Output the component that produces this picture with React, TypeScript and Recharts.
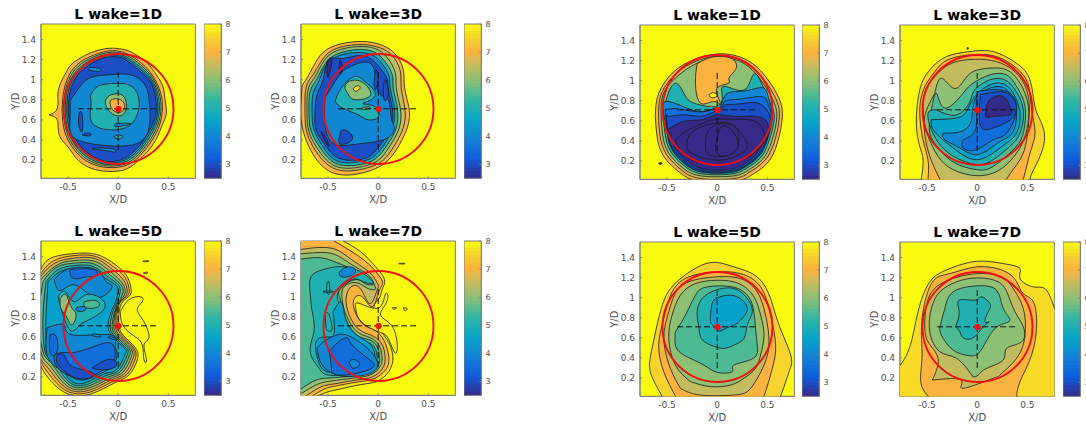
import React from 'react';
import { ComposedChart, Scatter, XAxis, YAxis, ReferenceDot, ReferenceArea, Label } from 'recharts';

type Contour = [number, number[]];

const xTicks = [-0.5, 0, 0.5];
const yTicks = [0.2, 0.4, 0.6, 0.8, 1, 1.2, 1.4];
const barTicks = [3, 4, 5, 6, 7, 8];
const barSteps = [2.5,2.625,2.75,2.875,3,3.125,3.25,3.375,3.5,3.625,3.75,3.875,4,4.125,4.25,4.375,4.5,4.625,4.75,4.875,5,5.125,5.25,5.375,5.5,5.625,5.75,5.875,6,6.125,6.25,6.375,6.5,6.625,6.75,6.875,7,7.125,7.25,7.375,7.5,7.625,7.75,7.875];
const barExtent = [{ x: 0, y: 2.5 }, { x: 1, y: 8 }];
const dashH = [[-0.4, 0.71], [0.4, 0.71]];
const dashV = [[0, 0.3], [0, 1.1]];

const near1D: Contour[] = [
  [7, [-.69,.65,-.62,.69,-.6,.78,-.6,.88,-.56,1,-.52,1.07,-.47,1.15,-.37,1.22,-.27,1.27,-.12,1.31,0,1.31,.12,1.28,.25,1.2,.33,1.12,.4,1.02,.45,.92,.47,.78,.48,.66,.44,.55,.4,.45,.33,.33,.24,.23,.12,.13,0,.09,-.15,.09,-.3,.13,-.42,.22,-.5,.33,-.58,.43,-.6,.55,-.62,.62]],
  [6.5, [-.56,.7,-.54,.9,-.47,1.08,-.34,1.2,-.15,1.275,.03,1.28,.2,1.19,.33,1.06,.42,.88,.44,.68,.38,.47,.25,.28,.1,.155,-.1,.125,-.28,.17,-.42,.28,-.53,.47]],
  [6, [-.545,.7,-.525,.9,-.455,1.07,-.33,1.185,-.15,1.26,.03,1.265,.19,1.175,.32,1.05,.405,.88,.425,.68,.365,.48,.24,.295,.09,.17,-.1,.14,-.27,.185,-.41,.295,-.515,.48]],
  [5, [-.53,.7,-.51,.9,-.44,1.06,-.32,1.17,-.15,1.245,.03,1.25,.18,1.16,.31,1.04,.39,.88,.41,.68,.35,.49,.23,.31,.08,.185,-.1,.155,-.26,.2,-.4,.31,-.5,.49]],
  [4, [-.515,.7,-.495,.89,-.425,1.05,-.31,1.155,-.15,1.23,.03,1.235,.17,1.145,.3,1.03,.375,.88,.395,.68,.335,.5,.22,.325,.07,.2,-.1,.17,-.25,.215,-.39,.325,-.485,.5]],
  [3, [-.5,.7,-.48,.88,-.41,1.04,-.3,1.14,-.15,1.215,.03,1.22,.16,1.13,.29,1.02,.36,.88,.38,.68,.32,.51,.21,.34,.06,.215,-.1,.185,-.24,.23,-.38,.34,-.47,.51]],
  [4, [-.48,.79,-.39,.92,-.28,1.02,-.08,1.05,.12,1.05,.26,.96,.31,.79,.31,.53,.22,.38,.06,.34,-.18,.35,-.44,.42,-.48,.59]],
  [3, [-.39,.67,-.36,.66,-.355,.5,-.38,.5,-.395,.57]],
  [3, [-.36,.45,-.3,.44,-.27,.455,-.31,.47]],
  [4, [-.26,.31,-.1,.29,-.03,.28,-.05,.31,-.2,.32]],
  [4, [-.29,1.1,-.2,1.08,-.18,1.11,-.28,1.12]],
  [5, [-.28,.84,-.21,.93,-.09,.96,.06,.96,.17,.9,.21,.76,.18,.63,.11,.54,-.04,.5,-.23,.54,-.28,.66,-.27,.76]],
  [4, [-.03,.53,.1,.55,.11,.565,-.02,.56]],
  [5, [-.04,.43,0,.45,.05,.43,0,.41]],
  [6, [-.127,.79,-.09,.84,-.01,.86,.057,.83,.083,.74,.057,.66,.007,.64,-.06,.66,-.117,.73]],
  [7, [-.08,.79,-.03,.81,.04,.79,.063,.725,.023,.675,-.043,.69,-.077,.74]],
];

const near3D: Contour[] = [
  [7, [-.76,.94,-.68,1.07,-.58,1.24,-.43,1.34,-.21,1.38,-.01,1.36,.157,1.27,.25,1.1,.263,.92,.307,.72,.29,.52,.173,.29,.023,.14,-.21,.06,-.46,.075,-.64,.24,-.74,.46,-.77,.66]],
  [6.5, [-.73,.66,-.72,.92,-.65,1.05,-.55,1.21,-.42,1.31,-.21,1.35,-.02,1.33,.13,1.25,.22,1.09,.23,.92,.265,.72,.25,.52,.14,.31,.01,.17,-.21,.1,-.44,.115,-.61,.27,-.71,.47]],
  [6, [-.71,.66,-.7,.9,-.63,1.03,-.54,1.19,-.41,1.29,-.21,1.33,-.03,1.31,.09,1.22,.17,1.07,.18,.92,.22,.72,.21,.52,.11,.33,-.01,.19,-.21,.125,-.43,.14,-.59,.29,-.69,.48]],
  [5, [-.69,.66,-.68,.88,-.61,1.01,-.53,1.16,-.4,1.26,-.21,1.3,-.05,1.28,.06,1.19,.14,1.05,.15,.92,.19,.72,.18,.52,.09,.35,-.03,.21,-.21,.15,-.42,.165,-.57,.31,-.67,.49]],
  [4, [-.66,.66,-.65,.86,-.59,.99,-.53,1.13,-.39,1.24,-.21,1.27,-.07,1.25,.04,1.16,.11,1.03,.12,.92,.16,.72,.15,.54,.07,.37,-.05,.23,-.21,.18,-.41,.19,-.55,.33,-.64,.5]],
  [3, [-.63,.66,-.61,.85,-.55,1,-.5,1.2,-.38,1.21,-.21,1.24,-.09,1.22,.01,1.13,.09,1.01,.1,.92,.14,.72,.13,.55,.05,.39,-.07,.25,-.21,.2,-.4,.22,-.53,.35,-.62,.5]],
  [4, [-.53,.82,-.39,1.04,-.28,1.13,-.09,1.17,-.02,1,.02,.85,.1,.8,.13,.62,.16,.5,.05,.4,-.2,.36,-.44,.36,-.53,.55]],
  [3, [.08,1,.1,.85,.06,.8,.055,.95]],
  [3, [-.02,1.1,0,1,-.03,.9,-.04,1]],
  [3, [-.38,.45,-.36,.5,-.28,.47,-.27,.39,-.38,.36]],
  [2.5, [-.57,.49,-.52,.42,-.49,.34,-.52,.37,-.56,.45]],
  [2.5, [-.51,1.17,-.46,1.2,-.49,1.05,-.51,1.05]],
  [2.5, [-.38,1.2,-.36,1.15,-.37,1.06,-.39,1.1]],
  [5, [-.43,.79,-.36,.93,-.24,1.03,-.14,.99,-.03,.87,-.09,.79,-.15,.76,-.03,.73,0,.63,-.1,.6,-.2,.65,-.36,.72]],
  [6, [-.33,.91,-.31,.97,-.19,.99,-.08,.89,-.11,.82,-.23,.8,-.29,.84]],
  [7.5, [-.25,.91,-.21,.94,-.18,.92,-.22,.885]],
  [6, [-.16,.72,-.09,.73,-.1,.71,-.16,.705]],
];

const near5D: Contour[] = [
  [7.9, [.02,.85,.107,.97,.223,1,.24,.95,.19,.87,.257,.75,.307,.59,.257,.52,.283,.37,.257,.37,.24,.52,.157,.61,.05,.71]],
  [7.9, [.25,1.355,.3,1.357,.3,1.35,.25,1.35]],
  [7, [.25,1.235,.29,1.245,.285,1.23]],
  [7.5, [-.78,1.25,-.68,1.38,-.44,1.43,-.21,1.42,-.03,1.32,.09,1.2,.13,1.05,.09,.99,.02,.9,.007,.72,.057,.61,.173,.49,.19,.37,.107,.22,-.04,.14,-.277,.03,-.54,.05,-.74,.25,-.79,.45,-.8,.85]],
  [7, [-.79,1.2,-.66,1.35,-.44,1.41,-.22,1.4,-.05,1.3,.07,1.19,.11,1.05,.07,.99,0,.9,-.01,.72,.04,.61,.155,.49,.17,.38,.09,.23,-.055,.155,-.28,.05,-.53,.07,-.72,.27,-.79,.45,-.8,.85]],
  [6.5, [-.79,1.18,-.64,1.33,-.44,1.385,-.23,1.38,-.07,1.28,.05,1.17,.09,1.05,.05,.98,-.01,.89,-.03,.72,.02,.61,.14,.49,.15,.39,.07,.24,-.07,.17,-.285,.07,-.52,.09,-.7,.29,-.79,.45,-.8,.85]],
  [6, [-.79,1.15,-.62,1.31,-.44,1.36,-.24,1.355,-.09,1.26,.03,1.15,.07,1.05,.03,.97,-.02,.88,-.045,.72,0,.61,.12,.49,.13,.4,.05,.25,-.085,.185,-.29,.09,-.51,.11,-.68,.31,-.77,.45,-.8,.85]],
  [5.5, [-.75,1.15,-.62,1.29,-.44,1.335,-.25,1.33,-.11,1.24,.01,1.14,.05,1.05,.01,.96,-.03,.87,-.06,.72,-.02,.61,.1,.49,.11,.41,.03,.26,-.1,.2,-.295,.11,-.5,.13,-.66,.33,-.75,.45,-.79,.8]],
  [5, [-.72,1.15,-.6,1.27,-.44,1.31,-.26,1.305,-.13,1.22,-.01,1.13,.02,1.05,-.01,.95,-.05,.86,-.08,.72,-.04,.61,.08,.49,.09,.42,.01,.27,-.12,.215,-.3,.13,-.49,.15,-.64,.35,-.73,.45,-.75,.8]],
  [4.5, [-.7,1.15,-.58,1.25,-.44,1.285,-.27,1.28,-.15,1.2,-.03,1.12,0,1.05,-.03,.94,-.07,.85,-.1,.72,-.06,.61,.06,.49,.07,.43,-.01,.28,-.14,.23,-.31,.15,-.48,.17,-.62,.37,-.71,.45,-.72,.8]],
  [4, [-.64,1.17,-.48,1.28,-.22,1.27,-.12,1.15,-.06,1.1,-.16,1,-.3,1.03,-.45,1.12,-.58,1.06]],
  [3.5, [-.48,1.27,-.35,1.28,-.22,1.26,-.23,1.2,-.3,1.2,-.4,1.18,-.47,1.2]],
  [4, [-.71,.69,-.54,.72,-.46,.62,-.08,.62,-.03,.52,-.01,.42,-.08,.29,-.21,.22,-.38,.17,-.58,.27,-.71,.42]],
  [3.5, [-.46,.44,-.28,.49,-.08,.54,-.03,.42,-.08,.32,-.24,.22,-.38,.19,-.58,.27,-.63,.42]],
  [3.5, [-.68,.62,-.63,.62,-.6,.52,-.63,.42,-.68,.45]],
  [3, [-.61,.42,-.54,.42,-.48,.32,-.34,.27,-.24,.22,-.38,.18,-.53,.255,-.61,.34]],
  [3, [-.26,.29,-.12,.37,-.03,.36,-.03,.3,-.15,.27]],
  [5, [-.6,1,-.53,1.05,-.44,.95,-.32,1.02,-.17,.98,-.14,.88,-.27,.78,-.38,.72,-.47,.66,-.55,.82]],
  [6, [-.58,.98,-.52,1.02,-.47,.9,-.42,.82,-.46,.72,-.51,.79,-.57,.88]],
  [5.5, [-.34,.95,-.22,.96,-.2,.9,-.32,.89]],
  [4, [-.42,.89,-.33,.9,-.34,.86,-.41,.86]],
  [4, [-.26,.61,-.18,.6,-.19,.62,-.25,.63]],
  [4, [-.1,.59,-.02,.57,-.03,.59,-.09,.6]],
];

const near7D: Contour[] = [
  [7.6, [-.377,1.57,-.177,1.45,-.027,1.3,.063,1.17,.04,1.07,.007,.98,-.043,.89,.007,.74,.023,.67,.107,.54,.147,.39,.107,.256,-.01,.157,-.177,.124,-.41,.074,-.61,.007,-.9,-.06,-.9,.4,-.9,.8,-.9,1.2,-.9,1.62]],
  [7.9, [-.227,.92,-.177,.93,.007,.89,.073,1.03,.09,.96,.023,.82,.14,.705,.19,.49,.157,.456,.09,.6,-.01,.655,-.177,.76]],
  [7.9, [.21,1.333,.26,1.333,.26,1.327,.21,1.327]],
  [7.5, [.14,.89,.18,.89,.16,.875]],
  [7.9, [.25,.89,.29,.88,.27,.86,.26,.87]],
  [7, [-.52,1.6,-.28,1.46,-.1,1.33,0,1.22,.045,1.14,.007,1.05,-.06,.9,-.16,1,-.243,.97,-.227,.84,-.143,.72,-.027,.66,.063,.555,.107,.39,.073,.27,-.043,.183,-.21,.15,-.443,.107,-.61,.04,-.9,-.05,-.9,.4,-.9,.8,-.9,1.2,-.9,1.6]],
  [6.5, [-.85,1.46,-.6,1.49,-.42,1.47,-.28,1.38,-.12,1.27,-.04,1.19,0,1.12,-.01,1.07,-.08,.93,-.17,1.07,-.27,1.1,-.32,.98,-.29,.82,-.2,.68,-.08,.62,.03,.54,.07,.39,.04,.28,-.06,.2,-.22,.17,-.45,.13,-.63,.07,-.9,-.05,-.9,.3,-.9,.7,-.9,1.1]],
  [6, [-.85,1.42,-.6,1.44,-.43,1.42,-.28,1.33,-.13,1.24,-.06,1.17,-.03,1.1,-.04,1.07,-.12,1.09,-.22,1.14,-.34,1.1,-.36,.98,-.32,.82,-.22,.66,-.1,.6,0,.53,.04,.39,.01,.29,-.08,.22,-.24,.19,-.47,.16,-.66,.1,-.9,0,-.9,.3,-.9,.7,-.9,1.1]],
  [5.5, [-.85,1.36,-.6,1.39,-.44,1.35,-.29,1.29,-.14,1.21,-.07,1.15,-.05,1.12,-.13,1.13,-.23,1.17,-.38,1.08,-.38,.98,-.34,.82,-.24,.64,-.12,.58,-.02,.52,.015,.39,-.01,.3,-.1,.24,-.26,.21,-.49,.19,-.68,.14,-.9,.05,-.9,.4,-.9,.7,-.9,1.05]],
  [5, [-.68,1.05,-.67,1.2,-.55,1.27,-.38,1.3,-.2,1.26,-.07,1.17,-.06,1.13,-.15,1.15,-.26,1.17,-.39,1.06,-.4,.96,-.36,.82,-.26,.63,-.14,.56,-.04,.5,-.01,.39,-.03,.31,-.12,.26,-.28,.23,-.5,.22,-.6,.3,-.68,.46,-.64,.66,-.66,.86]],
  [4, [-.39,1.24,-.33,1.29,-.25,1.29,-.23,1.24,-.3,1.2,-.37,1.2]],
  [4.5, [-.45,.85,-.37,.95,-.33,.8,-.24,.64,-.12,.56,-.05,.48,-.03,.38,-.08,.3,-.25,.25,-.5,.25,-.6,.37,-.62,.55,-.52,.6,-.44,.63]],
  [5, [-.53,.83,-.49,.82,-.46,.68,-.5,.66,-.52,.7]],
  [5, [-.51,1.14,-.49,1.14,-.485,1.04,-.51,1.04]],
  [5, [-.54,1.055,-.46,1.055,-.46,1.045,-.54,1.045]],
  [4, [-.61,.49,-.54,.555,-.41,.62,-.28,.605,-.11,.49,-.01,.356,-.04,.256,-.21,.207,-.41,.22,-.56,.32]],
  [3.5, [-.49,.455,-.39,.555,-.31,.59,-.26,.52,-.11,.39,-.04,.32,-.14,.256,-.41,.22,-.47,.32]],
  [4, [-.29,.35,-.24,.375,-.185,.33,-.23,.29,-.27,.3]],
];

const far1D: Contour[] = [
  [7, [-.617,.644,-.583,.876,-.433,1.09,-.233,1.208,0,1.267,.233,1.234,.433,1.1,.6,.86,.65,.644,.6,.38,.5,.18,.333,.054,.167,-.002,-.167,-.002,-.367,.08,-.533,.246,-.6,.445]],
  [6.5, [-.585,.644,-.555,.876,-.41,1.07,-.22,1.19,0,1.245,.22,1.215,.41,1.08,.57,.85,.62,.644,.57,.39,.47,.2,.31,.08,.16,.025,-.16,.025,-.35,.105,-.505,.265,-.57,.45]],
  [6, [-.56,.644,-.535,.876,-.39,1.05,-.21,1.17,0,1.23,.21,1.2,.39,1.065,.54,.84,.595,.644,.545,.4,.45,.215,.295,.1,.15,.05,-.15,.05,-.335,.125,-.485,.28,-.545,.46]],
  [5, [-.54,.644,-.5,.84,-.417,.975,-.333,.876,-.267,.793,-.133,.75,-.017,.743,.05,.81,.05,.936,.167,.916,.3,.936,.383,1.07,.5,.84,.57,.644,.52,.41,.43,.23,.28,.12,.14,.07,-.14,.07,-.32,.145,-.465,.295,-.52,.47]],
  [4, [-.53,.644,-.517,.793,-.3,.727,-.133,.694,-.017,.727,.033,.744,.083,.86,.2,.893,.333,.91,.467,.926,.517,.81,.55,.644,.5,.41,.41,.24,.27,.135,.13,.085,-.13,.085,-.31,.16,-.45,.31,-.5,.48]],
  [3.5, [-.52,.71,-.4,.72,-.2,.69,-.05,.71,.05,.75,.083,.8,.25,.82,.45,.84,.51,.76,.54,.65,.495,.41,.405,.245,.265,.14,.125,.09,-.125,.09,-.305,.165,-.445,.315,-.495,.485]],
  [3, [-.51,.66,-.48,.645,-.33,.66,-.167,.645,-.033,.69,.05,.73,.083,.76,.233,.77,.4,.78,.5,.7,.53,.6,.49,.41,.4,.25,.26,.145,.12,.1,-.12,.1,-.3,.175,-.44,.32,-.49,.48]],
  [2.5, [-.5,.51,-.333,.595,-.167,.61,-.017,.66,.033,.66,.233,.644,.4,.644,.5,.58,.49,.45,.39,.27,.25,.16,.11,.115,-.11,.115,-.29,.19,-.42,.33,-.47,.46]],
  [2.5, [-.417,.398,-.333,.484,-.167,.566,-.017,.616,.167,.616,.367,.6,.467,.484,.433,.35,.267,.218,0,.168,-.267,.218]],
  [2.5, [-.3,.317,-.283,.45,-.133,.55,.1,.58,.233,.484,.3,.35,.2,.25,0,.21,-.2,.25]],
  [2.5, [-.117,.347,-.1,.48,0,.563,.167,.547,.217,.412,.15,.28,0,.247,-.1,.28]],
  [2.5, [-.017,.347,.033,.53,.117,.53,.2,.417,.183,.3,.067,.247,0,.28]],
  [2.5, [-.585,.18,-.55,.18,-.565,.165]],
  [7, [-.2,1.17,-.05,1.235,.1,1.235,.18,1.19,.183,1.11,.117,1.026,.117,.976,.017,.943,0,.86,.04,.76,-.033,.793,-.167,.777,-.217,.976]],
  [7.9, [-.083,.86,-.033,.88,0,.85,-.05,.83]],
];

const far3D: Contour[] = [
  [7.5, [-.557,.02,-.54,.21,-.573,.346,-.607,.58,-.573,.91,-.473,1.108,-.307,1.24,-.073,1.29,.16,1.29,.393,1.173,.527,1.007,.577,.74,.643,.574,.667,.375,.577,.14,.527,.02,.45,-.12,.15,-.12,-.15,-.12,-.45,-.12]],
  [7, [-.49,.02,-.49,.21,-.54,.41,-.573,.71,-.523,.94,-.423,1.09,-.29,1.21,-.04,1.26,.193,1.24,.393,1.125,.51,.96,.543,.71,.577,.48,.527,.28,.46,.02,.35,-.12,.1,-.12,-.15,-.12,-.4,-.12]],
  [6.5, [-.373,.02,-.473,.246,-.523,.478,-.54,.744,-.507,.926,-.407,1.058,-.257,1.174,-.023,1.214,.193,1.19,.377,1.09,.493,.91,.52,.677,.493,.412,.427,.213,.293,.02,.2,-.12,0,-.12,-.25,-.12]],
  [6, [-.423,.876,-.357,1.025,-.24,.926,-.14,.992,-.04,1.092,.127,1.125,.293,1.108,.427,.976,.51,.744,.487,.478,.393,.279,.227,.114,0,.054,-.24,.114,-.39,.246,-.49,.445,-.523,.644]],
  [5.5, [-.457,.71,-.407,.876,-.323,.727,-.14,.876,-.04,.976,.127,1.058,.293,1.058,.393,.942,.477,.744,.46,.478,.36,.313,.16,.147,-.007,.114,-.223,.18,-.373,.313,-.473,.478]],
  [5, [-.407,.71,-.207,.66,-.073,.793,-.023,.91,.127,1.009,.273,1.009,.377,.91,.46,.71,.427,.478,.327,.346,.16,.213,-.007,.164,-.207,.23,-.357,.346,-.457,.512,-.49,.677]],
  [4.5, [-.457,.611,-.207,.628,-.107,.694,-.023,.843,.127,.959,.26,.969,.36,.876,.427,.677,.393,.478,.293,.379,.16,.28,-.007,.213,-.173,.28,-.323,.396,-.44,.512]],
  [4, [-.34,.478,-.157,.495,-.057,.611,-.023,.81,.127,.926,.273,.926,.36,.81,.393,.677,.36,.495,.26,.412,.16,.346,-.007,.263,-.173,.33,-.323,.412]],
  [3.5, [-.14,.412,-.023,.495,-.007,.677,-.007,.85,.05,.9,.293,.893,.393,.71,.293,.478,.16,.412,-.007,.313,-.14,.33]],
  [3, [.03,.86,.2,.89,.34,.85,.39,.71,.31,.595,.16,.53,.043,.53,.02,.71]],
  [2.5, [.093,.744,.143,.826,.26,.843,.327,.744,.327,.66,.16,.644,.087,.64]],
  [2.5, [-.1,1.33,-.09,1.33,-.09,1.315,-.1,1.315]],
];

const far5D: Contour[] = [
  [7.5, [-.55,.02,-.667,.263,-.65,.495,-.567,.86,-.467,1.09,-.3,1.24,-.067,1.35,.167,1.307,.4,1.207,.533,.99,.617,.727,.733,.43,.717,.263,.633,.02,.5,-.12,.2,-.12,-.1,-.12,-.4,-.12]],
  [7, [-.417,.02,-.533,.263,-.583,.528,-.533,.793,-.45,1.058,-.283,1.208,-.017,1.257,.233,1.24,.433,1.108,.533,.826,.583,.528,.55,.296,.467,.02,.35,-.12,.1,-.12,-.15,-.12,-.33,-.12]],
  [6.5, [-.367,.097,-.467,.296,-.533,.594,-.483,.86,-.4,1.075,-.233,1.175,0,1.208,.233,1.19,.4,1.058,.483,.826,.517,.561,.467,.329,.333,.097,.167,.03,-.167,.03]],
  [6, [-.267,.164,-.417,.329,-.483,.594,-.45,.826,-.367,1.025,-.217,1.141,0,1.174,.217,1.141,.367,1.009,.433,.826,.467,.628,.433,.429,.383,.296,.267,.197,.133,.13,-.067,.114]],
  [5.5, [-.417,.661,-.317,.827,-.217,1.025,-.1,1.108,.15,1.108,.3,1.025,.36,.893,.383,.694,.4,.528,.36,.396,.167,.329,.15,.263,0,.256,-.133,.329,-.333,.429,-.417,.528]],
  [5, [-.183,.71,-.2,.86,-.15,.992,-.017,1.075,.167,1.092,.3,.992,.35,.86,.3,.727,.267,.594,.167,.528,.05,.495,-.1,.545,-.167,.611]],
  [4.5, [-.067,.826,-.05,.943,0,.999,.133,1.025,.25,.976,.3,.876,.233,.777,.167,.727,.083,.694,.017,.667,-.033,.711,-.067,.76]],
];

const far7D: Contour[] = [
  [7.6, [-.767,.329,-.723,.396,-.657,.561,-.59,.86,-.473,1.158,-.273,1.29,-.007,1.363,.26,1.34,.427,1.29,.427,1.19,.56,1.108,.677,1.09,.76,.926,.82,.694,.85,.4,.85,.1,.6,-.12,.2,-.12,-.2,-.12,-.6,-.12,-.85,.1]],
  [7, [-.49,.02,-.563,.164,-.55,.43,-.553,.76,-.457,1.14,-.273,1.24,-.007,1.307,.26,1.27,.393,1.158,.46,1.04,.56,.96,.593,.73,.543,.43,.427,.164,.393,.02,.3,-.12,0,-.12,-.3,-.12]],
  [6.5, [-.447,.18,-.39,.396,-.49,.56,-.523,.76,-.473,1.025,-.29,1.174,-.007,1.24,.243,1.208,.36,1.09,.46,.893,.477,.628,.393,.396,.227,.23,.16,.197,-.14,.097,-.16,.18]],
  [6, [-.04,.21,-.207,.396,-.373,.462,-.473,.66,-.457,.893,-.373,1.058,-.207,1.158,-.007,1.197,.21,1.158,.31,1.025,.377,.86,.46,.71,.443,.561,.293,.495,.26,.38,.093,.296,.01,.23]],
  [5.5, [-.373,.71,-.323,.893,-.24,1.058,-.007,1.118,.193,1.075,.26,.893,.327,.777,.227,.727,.127,.628,.027,.462,-.073,.422,-.24,.478,-.357,.628]],
  [5, [-.217,.71,-.18,.86,-.18,.976,-.023,.976,.043,1.009,.127,.943,.11,.86,.077,.76,.12,.76,.06,.71,-.04,.601,-.14,.601,-.173,.661]],
];

const FONT = '"DejaVu Sans", sans-serif';
const INK = '#4d4d4d';
const FRAME = '#7f7f7f';
const X_DOMAIN = [-0.77, 0.77];
const Y_DOMAIN = [0.017, 1.555];

const colorStops: [number, number[]][] = [
  [2.5, [53, 42, 135]], [3.19, [15, 92, 221]], [3.875, [20, 129, 214]], [4.56, [6, 164, 202]],
  [5.25, [46, 183, 164]], [5.94, [135, 191, 119]], [6.625, [209, 187, 89]], [7.0, [251, 178, 62]],
  [7.45, [246, 207, 48]], [8, [249, 251, 14]],
];
function parula(v: number): string {
  for (let i = 1; i < colorStops.length; i++) {
    const [a, ca] = colorStops[i - 1];
    const [b, cb] = colorStops[i];
    if (v <= b) {
      const t = (v - a) / (b - a);
      return `rgb(${ca.map((c, k) => Math.round(c + (cb[k] - c) * t)).join(',')})`;
    }
  }
  return 'rgb(249,251,14)';
}
const rows = (flat: number[]) => {
  const out: { x: number; y: number }[] = [];
  for (let i = 0; i < flat.length; i += 2) out.push({ x: flat[i], y: flat[i + 1] });
  out.push({ x: flat[0], y: flat[1] });
  return out;
};
const noMark = () => null;

function Panel({ left, top, title, contours }: { left: number; top: number; title: string; contours: Contour[] }) {
  const axisL = 41, pad = 4, plot = 154.4, axisB = 30;
  const tickStyle = { fontSize: 9, fontFamily: FONT, fill: INK };
  return (
    <div style={{ position: 'absolute', left: left - axisL, top: top - pad }}>
      <div style={{ position: 'absolute', left: axisL - 20, width: plot + 40, top: pad - 18, textAlign: 'center', font: `bold 14px ${FONT}`, color: '#000', whiteSpace: 'nowrap' }}>{title}</div>
      <ComposedChart width={axisL + plot + pad} height={pad + plot + axisB} margin={{ top: pad, right: pad, bottom: 0, left: 0 }}>
        <ReferenceArea xAxisId="b" yAxisId="l" x1={X_DOMAIN[0]} x2={X_DOMAIN[1]} y1={Y_DOMAIN[0]} y2={Y_DOMAIN[1]} fill="#f9fb0e" fillOpacity={1} stroke="none" />
        {contours.map(([level, flat], i) => (
          <Scatter key={i} xAxisId="b" yAxisId="l" data={rows(flat)} dataKey="y" shape={noMark} isAnimationActive={false}
            lineType="joint" lineJointType="natural" line={{ fill: parula(level), stroke: '#1c1c1c', strokeWidth: 0.8 }} />
        ))}
        {[dashH, dashV].map((seg, i) => (
          <Scatter key={`d${i}`} xAxisId="b" yAxisId="l" data={seg.map(([x, y]) => ({ x, y }))} dataKey="y" shape={noMark} isAnimationActive={false}
            line={{ stroke: '#111', strokeWidth: 1, strokeDasharray: '6 3', fill: 'none' }} />
        ))}
        <ReferenceDot xAxisId="b" yAxisId="l" x={0.003} y={0.708} r={55} fill="none" stroke="#f01010" strokeWidth={1.9} />
        <ReferenceDot xAxisId="b" yAxisId="l" x={0.003} y={0.708} r={2.8} fill="#f01010" stroke="#f01010" />
        <ReferenceArea xAxisId="b" yAxisId="l" x1={X_DOMAIN[0]} x2={X_DOMAIN[1]} y1={Y_DOMAIN[0]} y2={Y_DOMAIN[1]} fill="none" stroke={FRAME} strokeWidth={1} />
        <XAxis xAxisId="b" type="number" dataKey="x" domain={X_DOMAIN} ticks={xTicks} allowDataOverflow orientation="bottom" height={axisB}
          tick={tickStyle} tickSize={-2} tickMargin={7} stroke={FRAME} interval={0}>
          <Label value="X/D" position="insideBottom" offset={5} style={{ fontSize: 10, fontFamily: FONT, fill: INK }} />
        </XAxis>
        <XAxis xAxisId="t" type="number" dataKey="x" domain={X_DOMAIN} ticks={xTicks} allowDataOverflow orientation="top" height={0} tick={false} tickSize={-2} stroke={FRAME} />
        <YAxis yAxisId="l" type="number" dataKey="y" domain={Y_DOMAIN} ticks={yTicks} allowDataOverflow orientation="left" width={axisL}
          tick={tickStyle} tickSize={-2} tickMargin={7} stroke={FRAME} interval={0}>
          <Label value="Y/D" angle={-90} position="insideLeft" offset={15} style={{ fontSize: 10, fontFamily: FONT, fill: INK, textAnchor: 'middle' }} />
        </YAxis>
        <YAxis yAxisId="r" type="number" dataKey="y" domain={Y_DOMAIN} ticks={yTicks} allowDataOverflow orientation="right" width={0} tick={false} tickSize={-2} stroke={FRAME} />
      </ComposedChart>
    </div>
  );
}

function ColorBar({ left, top }: { left: number; top: number }) {
  const barW = 17.4, plot = 154.4, pad = 4, axisW = 20;
  return (
    <div style={{ position: 'absolute', left, top: top - pad }}>
      <ComposedChart width={barW + axisW} height={plot + 2 * pad} margin={{ top: pad, right: 0, bottom: pad, left: 0 }}>
        <Scatter xAxisId="c" yAxisId="c" data={barExtent} dataKey="y" shape={noMark} isAnimationActive={false} />
        <XAxis type="number" dataKey="x" xAxisId="c" domain={[0, 1]} height={0} tick={false} axisLine={false} tickLine={false} />
        {barSteps.map((s) => (
          <ReferenceArea key={s} xAxisId="c" yAxisId="c" x1={0} x2={1} y1={s} y2={Math.min(8, s + 0.2)} fill={parula(s + 0.06)} fillOpacity={1} stroke="none" />
        ))}
        <ReferenceArea xAxisId="c" yAxisId="c" x1={0} x2={1} y1={2.5} y2={8} fill="none" stroke={FRAME} strokeWidth={1} />
        <YAxis type="number" dataKey="y" yAxisId="c" orientation="right" domain={[2.5, 8]} ticks={barTicks} width={axisW}
          tick={{ fontSize: 8, fontFamily: FONT, fill: INK }} tickSize={-2} tickMargin={6} stroke={FRAME} interval={0} />
      </ComposedChart>
    </div>
  );
}

export default function App() {
  return (
    <div style={{ position: 'absolute', left: 0, top: 0, width: 1086, height: 425, overflow: 'hidden', background: '#fff' }}>
      <Panel left={41} top={23.5} title="L wake=1D" contours={near1D} />
      <ColorBar left={203.7} top={23.5} />
      <Panel left={301} top={23.5} title="L wake=3D" contours={near3D} />
      <ColorBar left={463.7} top={23.5} />
      <Panel left={41} top={241.3} title="L wake=5D" contours={near5D} />
      <ColorBar left={203.7} top={241.3} />
      <Panel left={301} top={241.3} title="L wake=7D" contours={near7D} />
      <ColorBar left={463.7} top={241.3} />
      <Panel left={639.8} top={25} title="L wake=1D" contours={far1D} />
      <ColorBar left={802.3} top={25} />
      <Panel left={900} top={25} title="L wake=3D" contours={far3D} />
      <ColorBar left={1062.7} top={25} />
      <Panel left={639.8} top={242} title="L wake=5D" contours={far5D} />
      <ColorBar left={802.3} top={242} />
      <Panel left={900} top={242} title="L wake=7D" contours={far7D} />
      <ColorBar left={1062.7} top={242} />
    </div>
  );
}
